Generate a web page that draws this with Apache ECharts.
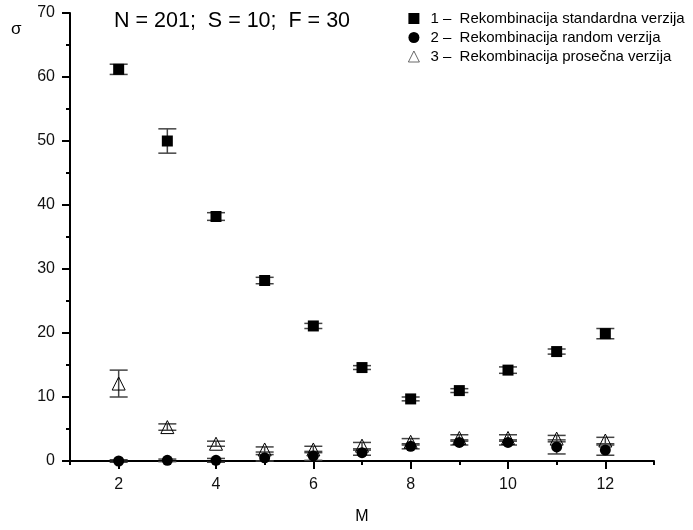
<!DOCTYPE html>
<html>
<head>
<meta charset="utf-8">
<script src="https://cdn.jsdelivr.net/npm/echarts@6/dist/echarts.min.js"></script>
<style>
  html, body { margin: 0; padding: 0; background: #fff; }
  #chart { width: 693px; height: 530px; }
</style>
</head>
<body>
<div id="chart"></div>
<script>
// M values (x axis)
var mVals = [2, 3, 4, 5, 6, 7, 8, 9, 10, 11, 12];
// 1 - standardna verzija
var stdMean = [61.2, 50.0, 38.2, 28.2, 21.1, 14.6, 9.7, 11.0, 14.2, 17.1, 19.9];
var stdErr  = [0.8, 1.9, 0.6, 0.5, 0.4, 0.3, 0.3, 0.3, 0.5, 0.4, 0.8];
// 2 - random verzija
var rndMean = [0.0, 0.1, 0.1, 0.5, 0.8, 1.3, 2.3, 2.9, 2.9, 2.2, 1.7];
var rndErr  = [0.2, 0.2, 0.3, 0.5, 0.7, 0.4, 0.4, 0.4, 0.4, 1.1, 0.8];
// 3 - prosecna verzija
var avgMean = [12.1, 5.3, 2.7, 1.8, 1.8, 2.4, 3.0, 3.6, 3.6, 3.5, 3.2];
var avgErr  = [2.1, 0.5, 0.4, 0.4, 0.5, 0.5, 0.5, 0.5, 0.5, 0.5, 0.5];

var names = [
  '1 –  Rekombinacija standardna verzija',
  '2 –  Rekombinacija random verzija',
  '3 –  Rekombinacija prosečna verzija'
];

function pts(mean) {
  return mVals.map(function (m, i) { return [m, mean[i]]; });
}
function bars(mean, err) {
  return mVals.map(function (m, i) { return [m, mean[i] - err[i], mean[i] + err[i]]; });
}

function renderErr(params, api) {
  var x = api.value(0);
  var lo = api.coord([x, api.value(1)]);
  var hi = api.coord([x, api.value(2)]);
  var w = 9;
  var st = { stroke: '#444', lineWidth: 1.5 };
  return {
    type: 'group',
    children: [
      { type: 'line', shape: { x1: lo[0], y1: lo[1], x2: hi[0], y2: hi[1] }, style: st },
      { type: 'line', shape: { x1: hi[0] - w, y1: hi[1], x2: hi[0] + w, y2: hi[1] }, style: st },
      { type: 'line', shape: { x1: lo[0] - w, y1: lo[1], x2: lo[0] + w, y2: lo[1] }, style: st }
    ]
  };
}

var font = 'Liberation Sans, Arial, sans-serif';
var chart = echarts.init(document.getElementById('chart'));
var option = {
  backgroundColor: '#fff',
  animation: false,
  textStyle: { fontFamily: font },
  title: [{
    text: 'N = 201;  S = 10;  F = 30',
    left: 109, top: 5,
    textStyle: { fontFamily: font, fontSize: 21.5, fontWeight: 'normal', color: '#000' }
  }, {
    text: 'σ',
    left: 6, top: 16,
    textStyle: { fontFamily: font, fontSize: 17, fontWeight: 'normal', color: '#000' }
  }],
  legend: {
    orient: 'vertical',
    left: 403, top: 6,
    itemGap: 4,
    itemWidth: 11, itemHeight: 11,
    textStyle: { fontFamily: font, fontSize: 15, color: '#000', padding: [0, 0, 0, 6] },
    data: [
      { name: names[0], icon: 'rect' },
      { name: names[1], icon: 'circle' },
      { name: names[2], icon: 'triangle', itemStyle: { color: '#fff', borderColor: '#444', borderWidth: 0.8 } }
    ]
  },
  grid: { left: 70, right: 39, top: 13, bottom: 69 },
  xAxis: [{
    type: 'value',
    min: 1, max: 13,
    name: 'M',
    nameLocation: 'middle',
    nameGap: 48,
    nameTextStyle: { fontFamily: font, fontSize: 16, color: '#000' },
    axisLine: { show: true, onZero: false, lineStyle: { color: '#000', width: 2 } },
    axisTick: { show: true, length: 8, customValues: [2, 4, 6, 8, 10, 12], lineStyle: { color: '#000', width: 2 } },
    axisLabel: { customValues: [2, 4, 6, 8, 10, 12], margin: 16, fontFamily: font, fontSize: 16, color: '#111' },
    splitLine: { show: false }
  }, {
    type: 'value',
    min: 1, max: 13,
    position: 'bottom',
    axisLine: { show: false, onZero: false },
    axisTick: { show: true, length: 4, customValues: [1, 3, 5, 7, 9, 11, 13], lineStyle: { color: '#000', width: 2 } },
    axisLabel: { show: false },
    splitLine: { show: false }
  }],
  yAxis: {
    type: 'value',
    min: 0, max: 70, interval: 10,
    axisLine: { show: true, lineStyle: { color: '#000', width: 2 } },
    axisTick: { show: true, length: 8, lineStyle: { color: '#000', width: 2 } },
    minorTick: { show: true, splitNumber: 2, length: 4, lineStyle: { color: '#000', width: 2 } },
    axisLabel: { margin: 15, fontFamily: font, fontSize: 16, color: '#111' },
    splitLine: { show: false }
  },
  series: [
    { type: 'custom', renderItem: renderErr, data: bars(stdMean, stdErr), z: 2, silent: true },
    { type: 'custom', renderItem: renderErr, data: bars(rndMean, rndErr), z: 2, silent: true },
    { type: 'custom', renderItem: renderErr, data: bars(avgMean, avgErr), z: 2, silent: true },
    {
      name: names[0], type: 'scatter', symbol: 'rect', symbolSize: 11, z: 5,
      itemStyle: { color: '#000', opacity: 1 },
      data: pts(stdMean)
    },
    {
      name: names[1], type: 'scatter', symbol: 'circle', symbolSize: 11, z: 5,
      itemStyle: { color: '#000', opacity: 1 },
      data: pts(rndMean)
    },
    {
      name: names[2], type: 'scatter', symbol: 'triangle', symbolSize: 13, z: 6,
      itemStyle: { color: 'rgba(255,255,255,0)', borderColor: '#000', borderWidth: 1, opacity: 1 },
      data: pts(avgMean)
    }
  ]
};
chart.setOption(option);
</script>
</body>
</html>
